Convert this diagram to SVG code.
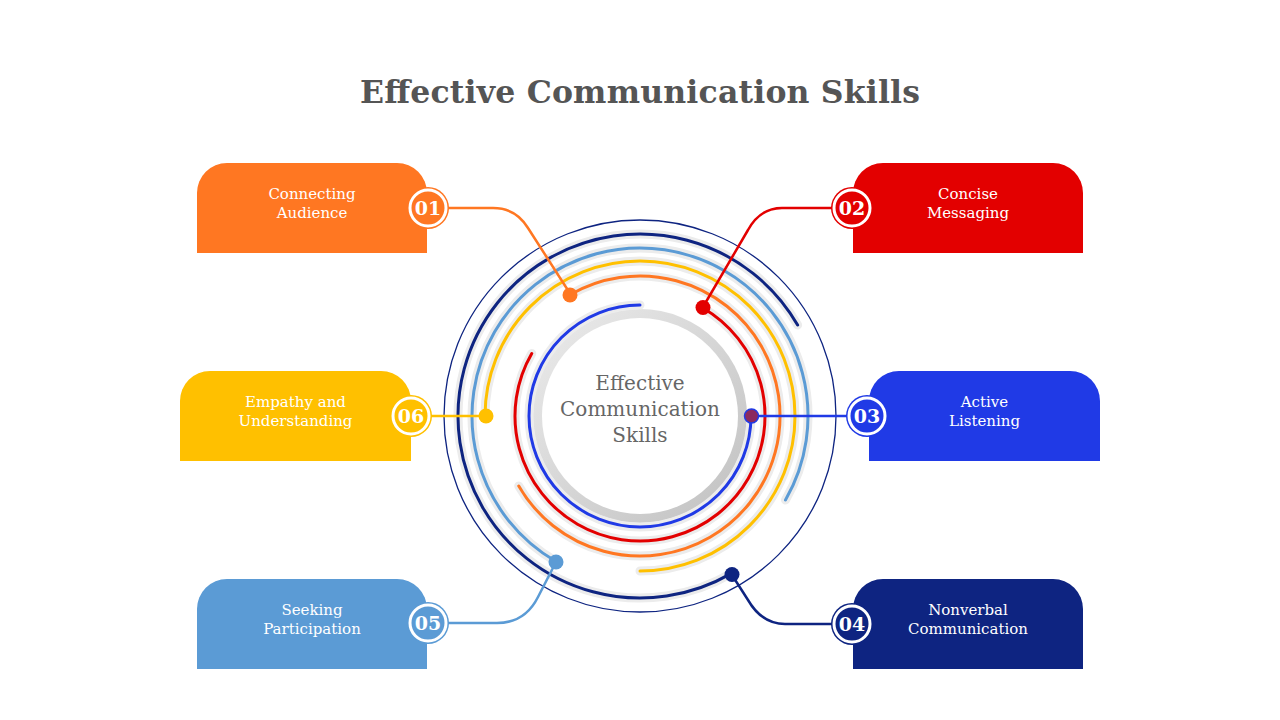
<svg xmlns="http://www.w3.org/2000/svg" width="1280" height="720" viewBox="0 0 1280 720">
<style>
.title{font-family:"DejaVu Serif","Liberation Serif",serif;font-weight:bold;font-size:31.5px;fill:#555555}
.lbl{font-family:"DejaVu Serif","Liberation Serif",serif;font-size:15px;fill:#ffffff}
.num{font-family:"DejaVu Serif","Liberation Serif",serif;font-weight:bold;font-size:19px;fill:#ffffff}
.ctr{font-family:"DejaVu Serif","Liberation Serif",serif;font-size:20px;fill:#666666}
.halo{fill:none;stroke:#ececec;stroke-width:9;stroke-linecap:round}
.arc{fill:none;stroke-width:3;stroke-linecap:round}
.con{fill:none;stroke-width:2.5;stroke-linecap:round;stroke-linejoin:round}
.ring{fill:none;stroke:#ffffff;stroke-width:3}
</style>
<defs>
<linearGradient id="gr" x1="0" y1="0" x2="1" y2="1">
<stop offset="0" stop-color="#ececec"/>
<stop offset="1" stop-color="#c0c0c0"/>
</linearGradient>
</defs>
<rect width="1280" height="720" fill="#ffffff"/>
<text class="title" x="640" y="103" text-anchor="middle" textLength="560" lengthAdjust="spacing">Effective Communication Skills</text>

<g id="center">
<circle cx="640" cy="416" r="196" fill="none" stroke="#0e2481" stroke-width="1.3"/>
<circle cx="640" cy="416" r="107" fill="url(#gr)"/>
<circle cx="640" cy="416" r="98" fill="#ffffff"/>
<text class="ctr" text-anchor="middle"><tspan x="640" y="390">Effective</tspan><tspan x="640" y="416">Communication</tspan><tspan x="640" y="442">Skills</tspan></text>
</g>

<g id="arcs">
<path class="halo" d="M640,305 A111,111 0 1 0 751,416"/>
<path class="arc" stroke="#203ae6" d="M640,305 A111,111 0 1 0 751,416"/>
<path class="halo" d="M531.75,353.5 A125,125 0 1 0 702.5,307.75"/>
<path class="arc" stroke="#e30000" d="M531.75,353.5 A125,125 0 1 0 702.5,307.75"/>
<path class="halo" d="M570,294.76 A140,140 0 1 1 518.76,486"/>
<path class="arc" stroke="#ff7722" d="M570,294.76 A140,140 0 1 1 518.76,486"/>
<path class="halo" d="M485,416 A155,155 0 1 1 640,571"/>
<path class="arc" stroke="#ffc000" d="M485,416 A155,155 0 1 1 640,571"/>
<path class="halo" d="M785.49,500 A168,168 0 1 0 556,561.49"/>
<path class="arc" stroke="#5b9bd5" d="M785.49,500 A168,168 0 1 0 556,561.49"/>
<path class="halo" d="M797.62,325 A182,182 0 1 0 731,573.62"/>
<path class="arc" stroke="#0e2481" d="M797.62,325 A182,182 0 1 0 731,573.62"/>
</g>

<g id="connectors">
<path class="con" stroke="#ff7722" d="M447,208 L493,208 Q516,208 528,228 L571,295"/>
<path class="con" stroke="#e30000" d="M833,208 L782,208 Q760,208 748,230 L703,307"/>
<path class="con" stroke="#203ae6" d="M752,416 L848,416"/>
<path class="con" stroke="#0e2481" d="M732,575 L748,600 Q762,624 785,624 L833,624"/>
<path class="con" stroke="#5b9bd5" d="M556,562 L538,597 Q525,623 497,623 L447,623"/>
<path class="con" stroke="#ffc000" d="M487,416 L430,416"/>
<circle cx="570" cy="295" r="7.5" fill="#ff7722"/>
<circle cx="703" cy="307.5" r="7.5" fill="#e30000"/>
<circle cx="751.5" cy="416" r="7" fill="#8b2a5e" stroke="#203ae6" stroke-width="1.5"/>
<circle cx="486" cy="416" r="7.5" fill="#ffc000"/>
<circle cx="556" cy="562" r="7.5" fill="#5b9bd5"/>
<circle cx="732" cy="574.5" r="7.5" fill="#0e2481"/>
</g>

<g id="node01">
<path fill="#ff7722" d="M197,253 V193 A30,30 0 0 1 227,163 H397 A30,30 0 0 1 427,193 V253 Z"/>
<text class="lbl" text-anchor="middle"><tspan x="312" y="199">Connecting</tspan><tspan x="312" y="218">Audience</tspan></text>
<circle cx="428" cy="208" r="21" fill="#ff7722"/>
<circle class="ring" cx="428" cy="208" r="18"/>
<text class="num" x="428" y="215" text-anchor="middle">01</text>
</g>

<g id="node02">
<path fill="#e30000" d="M853,253 V193 A30,30 0 0 1 883,163 H1053 A30,30 0 0 1 1083,193 V253 Z"/>
<text class="lbl" text-anchor="middle"><tspan x="968" y="199">Concise</tspan><tspan x="968" y="218">Messaging</tspan></text>
<circle cx="852" cy="208" r="21" fill="#e30000"/>
<circle class="ring" cx="852" cy="208" r="18"/>
<text class="num" x="852" y="215" text-anchor="middle">02</text>
</g>

<g id="node03">
<path fill="#203ae6" d="M869,461 V401 A30,30 0 0 1 899,371 H1070 A30,30 0 0 1 1100,401 V461 Z"/>
<text class="lbl" text-anchor="middle"><tspan x="984.5" y="407">Active</tspan><tspan x="984.5" y="426">Listening</tspan></text>
<circle cx="867" cy="416" r="21" fill="#203ae6"/>
<circle class="ring" cx="867" cy="416" r="18"/>
<text class="num" x="867" y="423" text-anchor="middle">03</text>
</g>

<g id="node04">
<path fill="#0e2481" d="M853,669 V609 A30,30 0 0 1 883,579 H1053 A30,30 0 0 1 1083,609 V669 Z"/>
<text class="lbl" text-anchor="middle"><tspan x="968" y="615">Nonverbal</tspan><tspan x="968" y="634">Communication</tspan></text>
<circle cx="852" cy="624" r="21" fill="#0e2481"/>
<circle class="ring" cx="852" cy="624" r="18"/>
<text class="num" x="852" y="631" text-anchor="middle">04</text>
</g>

<g id="node05">
<path fill="#5b9bd5" d="M197,669 V609 A30,30 0 0 1 227,579 H397 A30,30 0 0 1 427,609 V669 Z"/>
<text class="lbl" text-anchor="middle"><tspan x="312" y="615">Seeking</tspan><tspan x="312" y="634">Participation</tspan></text>
<circle cx="428" cy="623" r="21" fill="#5b9bd5"/>
<circle class="ring" cx="428" cy="623" r="18"/>
<text class="num" x="428" y="630" text-anchor="middle">05</text>
</g>

<g id="node06">
<path fill="#ffc000" d="M180,461 V401 A30,30 0 0 1 210,371 H381 A30,30 0 0 1 411,401 V461 Z"/>
<text class="lbl" text-anchor="middle"><tspan x="295.5" y="407">Empathy and</tspan><tspan x="295.5" y="426">Understanding</tspan></text>
<circle cx="411" cy="416" r="21" fill="#ffc000"/>
<circle class="ring" cx="411" cy="416" r="18"/>
<text class="num" x="411" y="423" text-anchor="middle">06</text>
</g>
</svg>
